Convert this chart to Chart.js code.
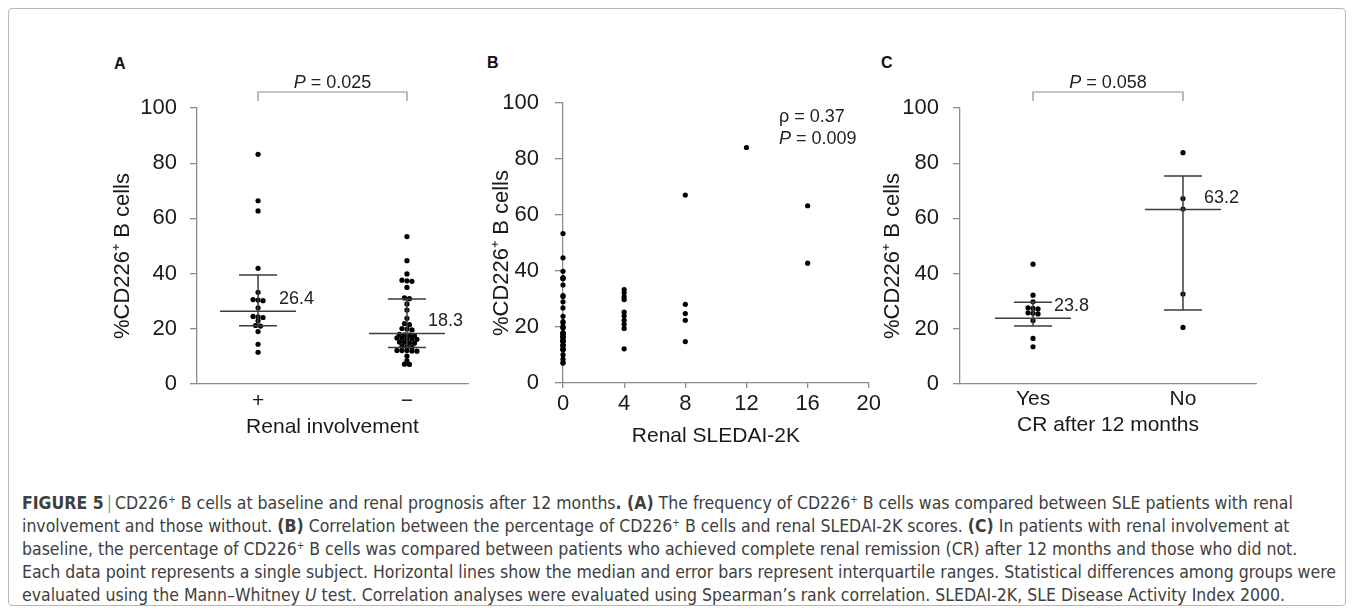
<!DOCTYPE html>
<html>
<head>
<meta charset="utf-8">
<script src="https://cdn.jsdelivr.net/npm/chart.js@4.4.0/dist/chart.umd.min.js"></script>
<style>
  html, body { margin: 0; padding: 0; background: #fff; }
  body { width: 1355px; height: 614px; position: relative; overflow: hidden; font-family: 'Liberation Sans', Arial, sans-serif; }
  .frame { position: absolute; left: 8px; top: 8px; width: 1338px; height: 598px; border: 1px solid #b8b8b8; border-radius: 4px; box-sizing: border-box; }
  canvas { position: absolute; }
  .letter { position: absolute; font-weight: bold; font-size: 16px; color: #111; }
  .stat { position: absolute; font-size: 18px; line-height: 22px; color: #222; white-space: nowrap; }
  .caption { position: absolute; left: 22px; top: 492px; font-family: 'DejaVu Sans Condensed', 'Liberation Sans Narrow', sans-serif; font-size: 17.5px; line-height: 23px; color: #404040; white-space: nowrap; }
  .caption sup { font-size: 10px; vertical-align: 6px; line-height: 0; }
  .caption .sep { color: #999; padding: 0 3px; }
</style>
</head>
<body>
<div class="frame"></div>

<div class="letter" style="left:114px; top:55px;">A</div>
<div class="letter" style="left:487px; top:54px;">B</div>
<div class="letter" style="left:881px; top:54px;">C</div>

<canvas id="chartA" width="400" height="380" style="left:90px; top:60px;"></canvas>
<canvas id="chartB" width="414" height="394" style="left:470px; top:55px;"></canvas>
<canvas id="chartC" width="406" height="378" style="left:860px; top:60px;"></canvas>

<div class="stat" style="left:779px; top:105px;">ρ = 0.37<br><i>P</i> = 0.009</div>

<div class="caption">
<b>FIGURE 5</b><span class="sep">|</span>CD226<sup>+</sup> B cells at baseline and renal prognosis after 12 months<b>. (A)</b> The frequency of CD226<sup>+</sup> B cells was compared between SLE patients with renal<br>
involvement and those without. <b>(B)</b> Correlation between the percentage of CD226<sup>+</sup> B cells and renal SLEDAI-2K scores. <b>(C)</b> In patients with renal involvement at<br>
baseline, the percentage of CD226<sup>+</sup> B cells was compared between patients who achieved complete renal remission (CR) after 12 months and those who did not.<br>
Each data point represents a single subject. Horizontal lines show the median and error bars represent interquartile ranges. Statistical differences among groups were<br>
evaluated using the Mann–Whitney <i>U</i> test. Correlation analyses were evaluated using Spearman’s rank correlation. SLEDAI-2K, SLE Disease Activity Index 2000.
</div>

<script>
// Panel A: renal involvement (+ / −)
const renalLabels = ['+', '−'];
const renalPos = [83.2, 66.4, 62.7, 41.9, 33.2, 30.6, 30.4, 30.2, 27.6, 24.5, 24.3, 24.1, 22.9, 21.2, 21.0, 19.0, 14.4, 11.5];
const renalNeg = [53.4, 44.7, 39.9, 37.6, 37.4, 37.2, 35.0, 31.2, 30.9, 29.0, 26.8, 23.8, 21.9, 21.5, 20.1, 19.9, 19.6,
                  18.0, 17.8, 17.7, 17.5, 16.7, 16.6, 16.5, 16.4, 16.2, 15.2, 15.1, 14.9, 14.8, 13.6, 13.5, 13.3,
                  12.15, 12.1, 12.1, 12.0, 11.9, 10.1, 8.5, 7.2, 7.1];
const renalMedian = [26.4, 18.3];
const renalQ1 = [21.1, 13.2];
const renalQ3 = [39.5, 30.8];
const renalP = '0.025';

// Panel B: renal SLEDAI-2K score vs %CD226+ B cells
const sledaiScores = [0, 4, 8, 12, 16];
const sledaiValues = [
  renalNeg,
  [33.4, 32.2, 30.8, 29.8, 25.3, 23.9, 22.4, 21.0, 19.5, 12.2],
  [67.1, 28.1, 24.8, 22.4, 14.8],
  [84.1],
  [63.3, 42.8]
];
const sledaiTicks = [0, 4, 8, 12, 16, 20];

// Panel C: complete remission after 12 months
const crLabels = ['Yes', 'No'];
const crYes = [43.4, 32.2, 29.8, 27.6, 27.4, 27.2, 25.8, 25.6, 25.4, 23.0, 16.5, 13.5];
const crNo = [83.8, 67.2, 63.4, 32.6, 20.5];
const crMedian = [23.8, 63.2];
const crQ1 = [21.0, 26.8];
const crQ3 = [29.6, 75.4];
const crP = '0.058';

const yTicks = [0, 20, 40, 60, 80, 100];
const Y_TITLE = '%CD226⁺ B cells';

const FONT = "'Liberation Sans', Arial, sans-serif";
const AXIS = '#8c8c8c';
const INK = '#1a1a1a';
const ROW_GAP = 1.2;   // values closer than this share a row in the dot plot
const DOT_STEP = 5;    // px between dots in a row

// spread points of one group into rows, like a column scatter
function swarm(values, center, pxPerUnit) {
  const sorted = [...values].sort((a, b) => b - a);
  const rows = [];
  sorted.forEach(v => {
    const row = rows[rows.length - 1];
    if (row && v > row[0] - ROW_GAP) row.push(v);
    else rows.push([v]);
  });
  const pts = [];
  rows.forEach(row => row.forEach((v, i) => {
    pts.push({ x: center + (i - (row.length - 1) / 2) * DOT_STEP / pxPerUnit, y: v });
  }));
  return pts;
}

// rotated y title, sitting a little below the axis centre as in the figure
const yTitlePlugin = {
  id: 'yTitle',
  afterDraw(chart, args, opts) {
    if (opts.offset == null) return;
    const { ctx, chartArea, scales: { y } } = chart;
    ctx.save();
    ctx.translate(y.left + opts.offset, (chartArea.top + chartArea.bottom) / 2 + 10);
    ctx.rotate(-Math.PI / 2);
    ctx.font = '22px ' + FONT;
    ctx.fillStyle = INK;
    ctx.textAlign = 'center';
    ctx.textBaseline = 'middle';
    ctx.fillText(Y_TITLE, 0, 0);
    ctx.restore();
  }
};
Chart.register(yTitlePlugin);

// median + interquartile bars and the comparison bracket
const summaryPlugin = {
  id: 'summary',
  afterDatasetsDraw(chart, args, opts) {
    if (!opts.median) return;
    const { ctx, scales: { x, y } } = chart;
    ctx.save();
    ctx.strokeStyle = '#3c3c3c';
    ctx.lineWidth = 1.5;
    opts.median.forEach((m, i) => {
      const px = x.getPixelForValue(i + 1);
      const pm = y.getPixelForValue(m);
      const p1 = y.getPixelForValue(opts.q1[i]);
      const p3 = y.getPixelForValue(opts.q3[i]);
      ctx.beginPath();
      ctx.moveTo(px, p1); ctx.lineTo(px, p3);
      ctx.moveTo(px - 19, p1); ctx.lineTo(px + 19, p1);
      ctx.moveTo(px - 19, p3); ctx.lineTo(px + 19, p3);
      ctx.moveTo(px - 38, pm); ctx.lineTo(px + 38, pm);
      ctx.stroke();
      ctx.fillStyle = '#222';
      ctx.font = '18px ' + FONT;
      ctx.textAlign = 'left';
      ctx.textBaseline = 'middle';
      ctx.fillText(m.toFixed(1), px + 21, pm - 12);
    });

    // bracket with P value
    const xa = x.getPixelForValue(1), xb = x.getPixelForValue(2);
    const top = y.getPixelForValue(100) - 16;
    ctx.strokeStyle = AXIS;
    ctx.lineWidth = 1.2;
    ctx.beginPath();
    ctx.moveTo(xa, top + 9); ctx.lineTo(xa, top); ctx.lineTo(xb, top); ctx.lineTo(xb, top + 9);
    ctx.stroke();
    ctx.fillStyle = '#222';
    ctx.textBaseline = 'alphabetic';
    ctx.font = 'italic 18px ' + FONT;
    const w1 = ctx.measureText('P').width;
    ctx.font = '18px ' + FONT;
    const rest = ' = ' + opts.p;
    const w2 = ctx.measureText(rest).width;
    const sx = (xa + xb) / 2 - (w1 + w2) / 2;
    ctx.font = 'italic 18px ' + FONT;
    ctx.fillText('P', sx, top - 4);
    ctx.font = '18px ' + FONT;
    ctx.fillText(rest, sx + w1, top - 4);
    ctx.restore();
  }
};

function yAxis(width, labelPad, tickLen) {
  return {
    min: 0, max: 100,
    afterBuildTicks: s => { s.ticks = yTicks.map(v => ({ value: v })); },
    ticks: { color: INK, padding: labelPad, font: { size: 22, family: FONT } },
    grid: { drawOnChartArea: false, drawTicks: true, tickLength: tickLen, color: AXIS, lineWidth: 1.3 },
    border: { color: AXIS, width: 1.3 },
    afterFit: s => { s.width = width; }
  };
}

function groupAxis(labels, min, max, height, labelPad, titleText) {
  return {
    type: 'linear', min, max,
    afterBuildTicks: s => { s.ticks = labels.map((l, i) => ({ value: i + 1 })); },
    ticks: { color: INK, padding: labelPad, maxRotation: 0, autoSkip: false, font: { size: 21, family: FONT },
             callback: v => labels[v - 1] ?? '' },
    grid: { display: false, drawTicks: false },
    border: { color: AXIS, width: 1.3 },
    title: { display: true, text: titleText, color: INK, font: { size: 21, family: FONT }, padding: 0 },
    afterFit: s => { s.height = height; }
  };
}

function baseOptions(padding, extra) {
  return {
    responsive: false,
    animation: false,
    devicePixelRatio: 1,
    layout: { padding },
    plugins: { legend: { display: false }, tooltip: { enabled: false }, ...extra },
    events: []
  };
}

function dots(data) {
  return { type: 'scatter', data, pointRadius: 2.6, pointBackgroundColor: '#000', pointBorderWidth: 0, clip: false };
}

// Panel A
new Chart(document.getElementById('chartA'), {
  type: 'scatter',
  data: { datasets: [dots(swarm(renalPos, 1, 149)), dots(swarm(renalNeg, 2, 149))] },
  options: {
    ...baseOptions({ top: 48, right: 22, left: 0, bottom: 0 }, {
      yTitle: { offset: 33 },
      summary: { median: renalMedian, q1: renalQ1, q3: renalQ3, p: renalP }
    }),
    scales: {
      x: groupAxis(renalLabels, 0.59, 2.41, 56, 5, 'Renal involvement'),
      y: yAxis(107, 13, 7)
    }
  },
  plugins: [summaryPlugin]
});

// Panel B
new Chart(document.getElementById('chartB'), {
  type: 'scatter',
  data: { datasets: sledaiScores.map((s, i) => dots(sledaiValues[i].map(v => ({ x: s, y: v })))) },
  options: {
    ...baseOptions({ top: 48, right: 10, left: 0, bottom: 0 }, { yTitle: { offset: 32 } }),
    scales: {
      x: {
        type: 'linear', min: 0, max: 20,
        afterBuildTicks: s => { s.ticks = sledaiTicks.map(v => ({ value: v })); },
        ticks: { color: INK, padding: 3, maxRotation: 0, font: { size: 22, family: FONT } },
        grid: { drawOnChartArea: false, drawTicks: true, tickLength: 5, color: AXIS, lineWidth: 1.3 },
        border: { color: AXIS, width: 1.3 },
        title: { display: true, text: 'Renal SLEDAI-2K', color: INK, font: { size: 21, family: FONT }, padding: 0 },
        afterFit: s => { s.height = 66; }
      },
      y: yAxis(93, 16, 8)
    }
  }
});

// Panel C
new Chart(document.getElementById('chartC'), {
  type: 'scatter',
  data: { datasets: [dots(swarm(crYes, 1, 150)), dots(swarm(crNo, 2, 150))] },
  options: {
    ...baseOptions({ top: 48, right: 10, left: 0, bottom: 0 }, {
      yTitle: { offset: 33 },
      summary: { median: crMedian, q1: crQ1, q3: crQ3, p: crP }
    }),
    scales: {
      x: groupAxis(crLabels, 0.513, 2.487, 54, 3, 'CR after 12 months'),
      y: yAxis(100, 14, 7)
    }
  },
  plugins: [summaryPlugin]
});
</script>
</body>
</html>
